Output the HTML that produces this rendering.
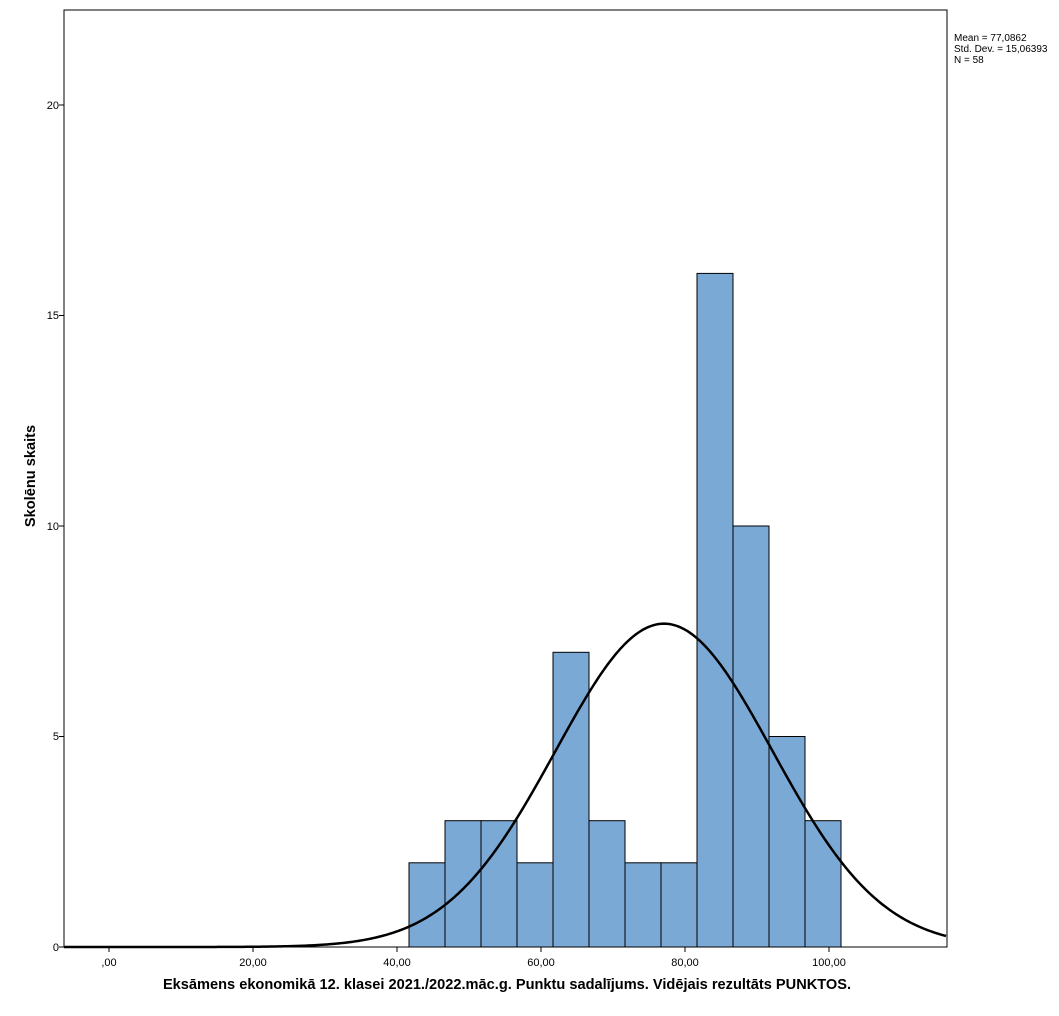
<!DOCTYPE html>
<html><head><meta charset="utf-8"><style>
body{margin:0;background:#fff;}
svg text{font-family:"Liberation Sans",Arial,sans-serif;}
</style></head><body>
<svg id="s" width="1059" height="1011" viewBox="0 0 1059 1011" xmlns="http://www.w3.org/2000/svg">
<rect x="0" y="0" width="1059" height="1011" fill="#fff"/>
<rect x="64" y="10" width="883" height="937" fill="#fff" stroke="#000" stroke-width="1"/>
<g id="bars" fill="#7ba9d6" stroke="#000" stroke-width="1"></g>
<path id="curve" fill="none" stroke="#000" stroke-width="2.5"/>
<g font-size="11" text-anchor="end" fill="#000">
<text x="59" y="951">0</text>
<text x="59" y="740">5</text>
<text x="59" y="530">10</text>
<text x="59" y="319">15</text>
<text x="59" y="109">20</text>
</g>
<g stroke="#000"><line x1="59" y1="947" x2="64" y2="947"/><line x1="59" y1="736.5" x2="64" y2="736.5"/><line x1="59" y1="526" x2="64" y2="526"/><line x1="59" y1="315.5" x2="64" y2="315.5"/><line x1="59" y1="105" x2="64" y2="105"/>
<line x1="109" y1="947" x2="109" y2="952"/><line x1="253" y1="947" x2="253" y2="952"/><line x1="397" y1="947" x2="397" y2="952"/><line x1="541" y1="947" x2="541" y2="952"/><line x1="685" y1="947" x2="685" y2="952"/><line x1="829" y1="947" x2="829" y2="952"/></g>
<g font-size="11" text-anchor="middle">
<text x="109" y="966">,00</text>
<text x="253" y="966">20,00</text>
<text x="397" y="966">40,00</text>
<text x="541" y="966">60,00</text>
<text x="685" y="966">80,00</text>
<text x="829" y="966">100,00</text>
</g>
<text x="507" y="989" font-size="14.6" font-weight="bold" text-anchor="middle">Eksāmens ekonomikā 12. klasei 2021./2022.māc.g. Punktu sadalījums. Vidējais rezultāts PUNKTOS.</text>
<text transform="translate(35,476) rotate(-90)" font-size="14.6" font-weight="bold" text-anchor="middle">Skolēnu skaits</text>
<g font-size="10"><text x="954" y="41">Mean = 77,0862</text><text x="954" y="52">Std. Dev. = 15,06393</text><text x="954" y="63">N = 58</text></g>
</svg>
<script>
var h=[2,3,3,2,7,3,2,2,16,10,5,3],g=document.getElementById('bars'),s='';
for(var i=0;i<h.length;i++){var x=409+36*i,hh=h[i]*42.1;s+='<rect x="'+x+'" y="'+(947-hh)+'" width="36" height="'+hh+'"/>';}
g.innerHTML=s;
var m=77.0862,sd=15.06393,d='';
for(var px=64;px<=947;px+=2){var v=(px-109)/7.2,f=290/(sd*Math.sqrt(2*Math.PI))*Math.exp(-0.5*Math.pow((v-m)/sd,2));d+=(px==64?'M':'L')+px+','+(947-f*42.1).toFixed(2);}
document.getElementById('curve').setAttribute('d',d);
</script>
</body></html>
